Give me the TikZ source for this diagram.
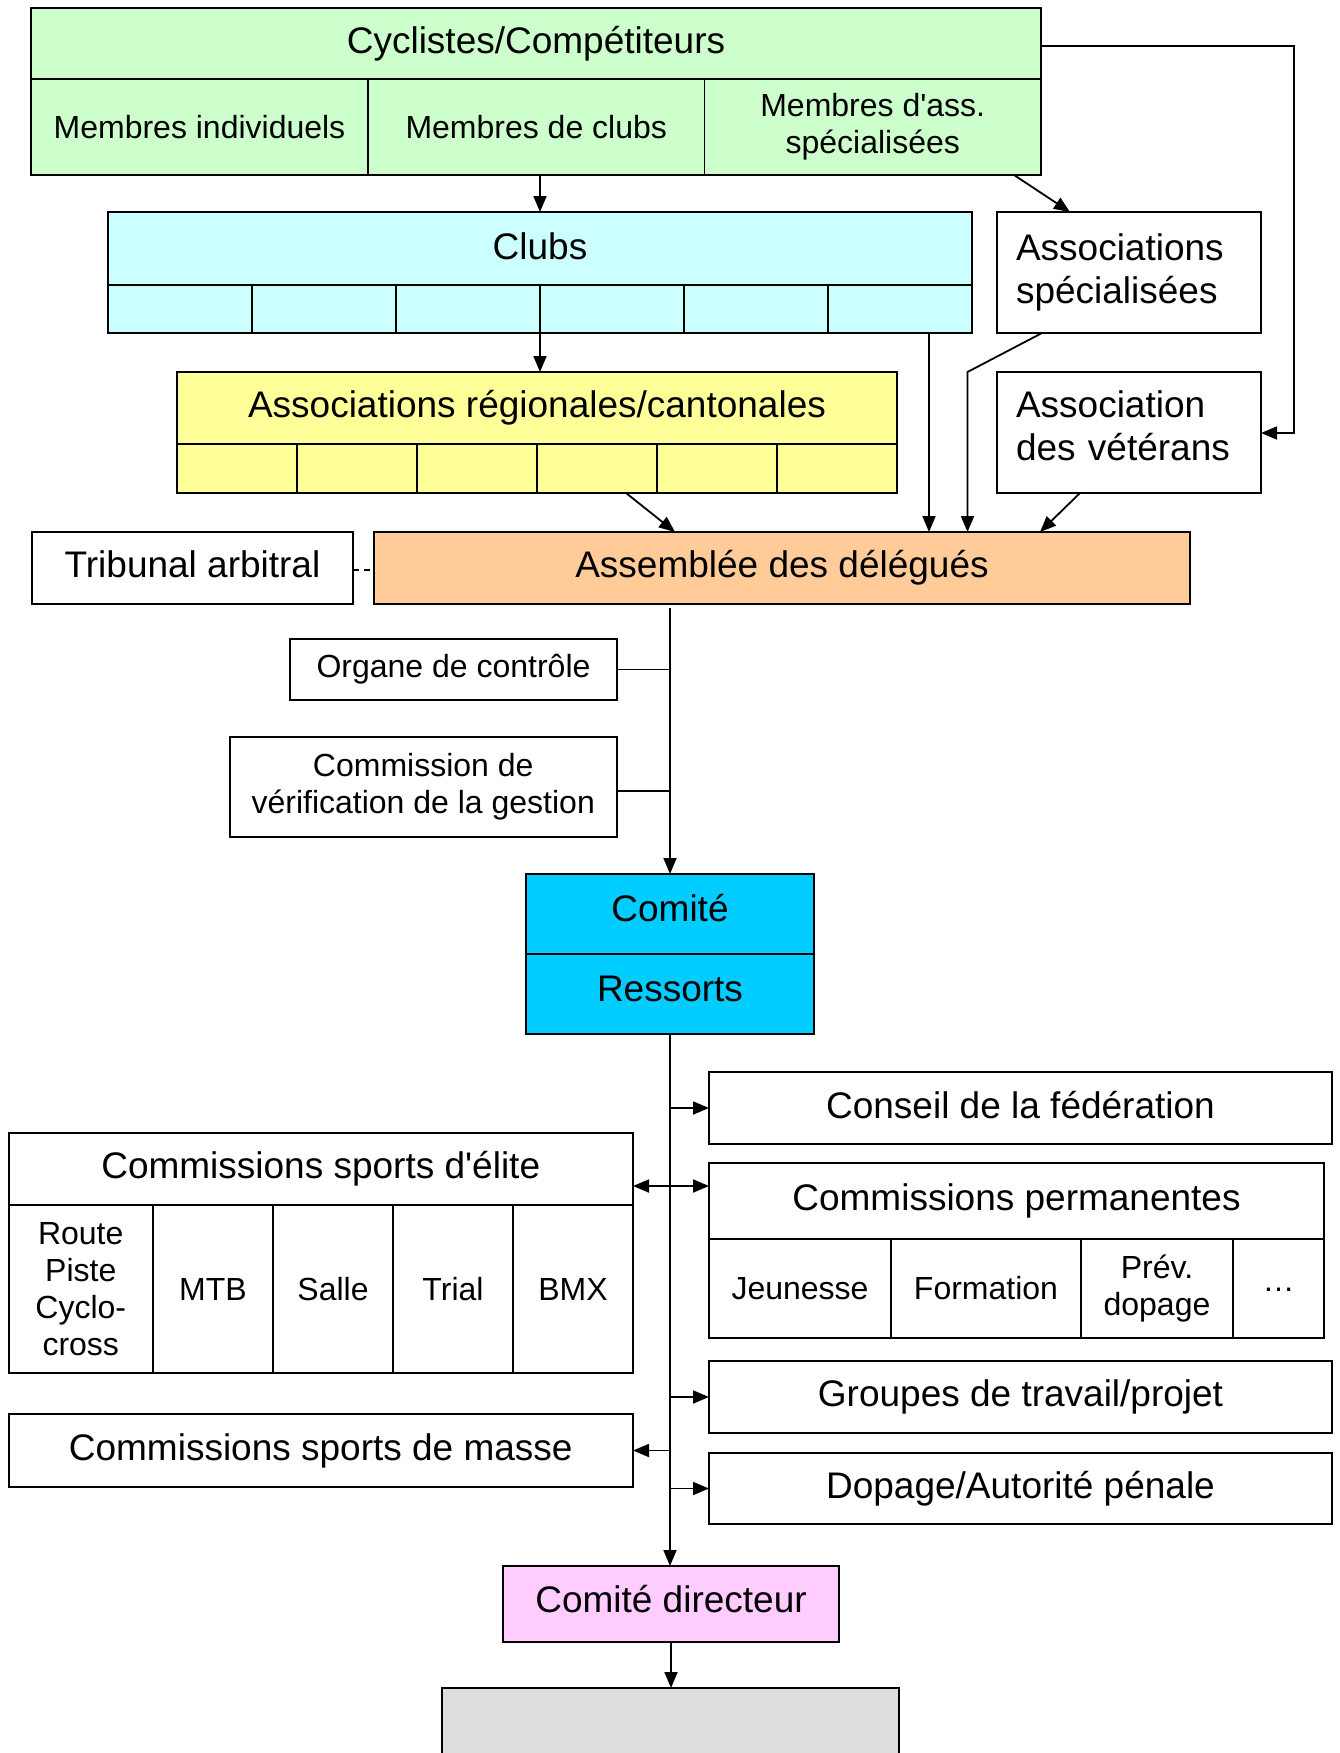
\documentclass[tikz,border=0pt]{standalone}
\usepackage{fontspec}
\setmainfont{Liberation Sans}
\usetikzlibrary{arrows.meta}
\definecolor{cgreen}{HTML}{CCFFCC}
\definecolor{ccyan}{HTML}{CCFFFF}
\definecolor{cyell}{HTML}{FFFF99}
\definecolor{corange}{HTML}{FFCC99}
\definecolor{cblue}{HTML}{00CCFF}
\definecolor{cpink}{HTML}{FFCCFF}
\definecolor{cgrey}{HTML}{DDDDDD}
\newcommand\fbig{\fontsize{37}{42.5}\selectfont}
\newcommand\fsmall{\fontsize{32}{37}\selectfont}
\tikzset{
  bx/.style={draw, line width=2pt, inner sep=0pt, outer sep=0pt, anchor=north west, align=center, font=\fbig},
  cellbx/.style={bx, line width=1.6pt},
  sm/.style={font=\fsmall},
  arr/.style={line width=1.8pt, -{Triangle[length=16pt,width=13pt]}},
  conn/.style={line width=1.8pt},
  dbl/.style={line width=1.8pt, {Triangle[length=16pt,width=13pt]}-{Triangle[length=16pt,width=13pt]}},
}
\newcommand\bx[7]{\node[#2,minimum width={(#5-#3)*1pt},minimum height={(#6-#4)*1pt}] (#1) at (#3,#4) {#7};}
\begin{document}
\begin{tikzpicture}[x=1pt,y=-1pt]
\useasboundingbox (0,0) rectangle (1339,1753);
\fill[white] (0,0) rectangle (1339,1753);
% Cyclistes
\bx{cyc}{bx,fill=cgreen}{31}{8}{1041}{175}{}
\bx{cycH}{cellbx}{31}{8}{1041}{79}{Cyclistes/Compétiteurs}
\bx{cycA}{cellbx,sm}{31}{79}{368}{175}{Membres individuels}
\bx{cycB}{cellbx,sm}{368}{79}{704.5}{175}{Membres de clubs}
\bx{cycC}{cellbx,sm}{704.5}{79}{1041}{175}{Membres d\textquotesingle ass.\\spécialisées}
\draw[bx,fill=none] (cyc.north west) rectangle (cyc.south east);
% Clubs
\bx{clubs}{bx,fill=ccyan}{108}{212}{972}{333}{}
\bx{clubsH}{cellbx,text depth=4pt}{108}{212}{972}{285}{Clubs}
\bx{clA}{cellbx}{108}{285}{252}{333}{}
\bx{clB}{cellbx}{252}{285}{396}{333}{}
\bx{clC}{cellbx}{396}{285}{540}{333}{}
\bx{clD}{cellbx}{540}{285}{684}{333}{}
\bx{clE}{cellbx}{684}{285}{828}{333}{}
\bx{clF}{cellbx}{828}{285}{972}{333}{}
\draw[bx,fill=none] (clubs.north west) rectangle (clubs.south east);
% Associations specialisees
\bx{assspec}{bx,fill=white,text width=226pt,align=left}{997}{212}{1261}{333}{Associations\\spécialisées}
% Associations regionales
\bx{assreg}{bx,fill=cyell}{177}{372}{897}{493}{}
\bx{assregH}{cellbx}{177}{372}{897}{444}{Associations régionales/cantonales}
\bx{arA}{cellbx}{177}{444}{297}{493}{}
\bx{arB}{cellbx}{297}{444}{417}{493}{}
\bx{arC}{cellbx}{417}{444}{537}{493}{}
\bx{arD}{cellbx}{537}{444}{657}{493}{}
\bx{arE}{cellbx}{657}{444}{777}{493}{}
\bx{arF}{cellbx}{777}{444}{897}{493}{}
\draw[bx,fill=none] (assreg.north west) rectangle (assreg.south east);
% Veterans
\bx{assvet}{bx,fill=white,text width=226pt,align=left,text depth=56pt}{997}{372}{1261}{493}{Association\\des vétérans}
% Tribunal, Assemblee
\bx{trib}{bx,fill=white,text depth=7pt}{32}{532}{353}{604}{Tribunal arbitral}
\bx{assem}{bx,fill=corange}{374}{532}{1190}{604}{Assemblée des délégués}
% Organe, Commission
\bx{organe}{bx,fill=white,sm}{290}{639}{617}{700}{Organe de contrôle}
\bx{cverif}{bx,fill=white,sm}{229.5}{737}{617}{837}{Commission de\\vérification de la gestion}
% Comite
\bx{comite}{bx,fill=cblue}{526}{874}{814}{1034}{}
\bx{comiteA}{cellbx,text depth=13pt}{526}{874}{814}{954}{Comité}
\bx{comiteB}{cellbx,text depth=11pt}{526}{954}{814}{1034}{Ressorts}
\draw[bx,fill=none] (comite.north west) rectangle (comite.south east);
% Right side
\bx{conseil}{bx,fill=white,text depth=7pt}{709}{1072}{1332}{1144}{Conseil de la fédération}
\bx{perm}{bx,fill=white}{709}{1163}{1324}{1338}{}
\bx{permH}{cellbx}{709}{1163}{1324}{1239}{Commissions permanentes}
\bx{pA}{cellbx,sm}{709}{1239}{891}{1338}{Jeunesse}
\bx{pB}{cellbx,sm}{891}{1239}{1081}{1338}{Formation}
\bx{pC}{cellbx,sm}{1081}{1239}{1233}{1338}{Prév.\\dopage}
\bx{pD}{cellbx,sm}{1233}{1239}{1324}{1338}{\raisebox{-6pt}{…}}
\draw[bx,fill=none] (perm.north west) rectangle (perm.south east);
\bx{groupes}{bx,fill=white}{709}{1361}{1332}{1433}{Groupes de travail/projet}
\bx{dopage}{bx,fill=white}{709}{1453}{1332}{1524}{Dopage/Autorité pénale}
% Left side
\bx{elite}{bx,fill=white}{8.5}{1133}{633}{1373}{}
\bx{eliteH}{cellbx}{8.5}{1133}{633}{1205}{Commissions sports d\textquotesingle élite}
\bx{eA}{cellbx,sm}{8.5}{1205}{153}{1373}{Route\\Piste\\Cyclo-\\cross}
\bx{eB}{cellbx,sm}{153}{1205}{273}{1373}{MTB}
\bx{eC}{cellbx,sm}{273}{1205}{393}{1373}{Salle}
\bx{eD}{cellbx,sm}{393}{1205}{513}{1373}{Trial}
\bx{eE}{cellbx,sm}{513}{1205}{633}{1373}{BMX}
\draw[bx,fill=none] (elite.north west) rectangle (elite.south east);
\bx{masse}{bx,fill=white}{8.5}{1414}{633}{1487}{Commissions sports de masse}
% Bottom
\bx{cdir}{bx,fill=cpink,text depth=11pt}{503}{1566}{839}{1642}{Comité directeur}
\bx{grey}{bx,fill=cgrey}{442}{1688}{899}{1765}{}
% Connectors
\draw[arr] (cyc.south -| clubs.north) -- (clubs.north);
\draw[arr] (clubs.south) -- (clubs.south |- assreg.north);
\draw[arr] (cyc.south -| 1014,0) -- (assspec.north -| 1070,0);
\draw[arr] (cycH.east |- 0,46) -| (1294,433) -- (assvet.east |- 0,433);
\draw[arr] (clubs.south -| 929,0) -- (assem.north -| 929,0);
\draw[arr] (assspec.south -| 1042,0) -- (assvet.north -| 967.5,0) -- (assem.north -| 967.5,0);
\draw[arr] (assvet.south -| 1080,0) -- (assem.north -| 1040,0);
\draw[arr] (assreg.south -| 626,0) -- (assem.north -| 675,0);
\draw[conn, dash pattern=on 6pt off 5pt] (trib.east |- 0,570) -- (assem.west |- 0,570);
\coordinate (sp0) at (670,608);
\draw[arr] (sp0) -- (sp0 |- comite.north);
\draw[conn] (organe.east) -- (organe.east -| sp0);
\draw[conn] (cverif.east |- 0,791) -- (sp0 |- 0,791);
\draw[arr] (comite.south) -- (comite.south |- cdir.north);
\draw[arr] (conseil.west -| comite.south) -- (conseil.west);
\draw[dbl] (elite.east |- 0,1186) -- (perm.west |- 0,1186);
\draw[arr] (groupes.west -| comite.south) -- (groupes.west);
\draw[arr] (masse.east -| comite.south) -- (masse.east);
\draw[arr] (dopage.west -| comite.south) -- (dopage.west);
\draw[arr] (cdir.south) -- (cdir.south |- grey.north);
\end{tikzpicture}
\end{document}
